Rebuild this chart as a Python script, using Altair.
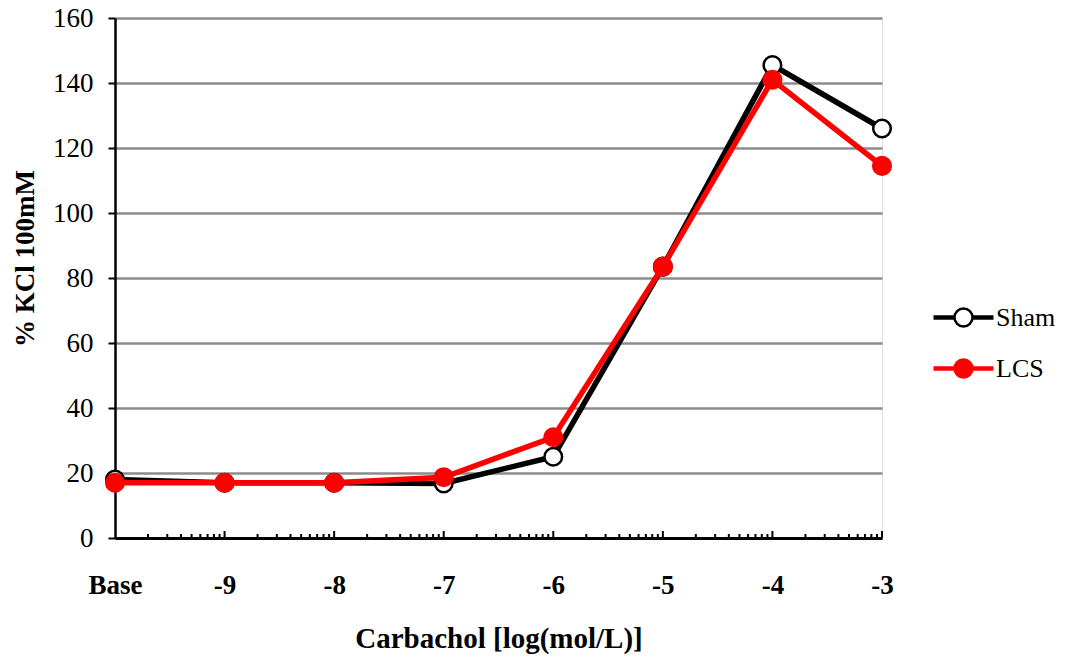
import altair as alt
import pandas as pd
import numpy as np

# Data
x_pos = [-10, -9, -8, -7, -6, -5, -4, -3]
x_labels = ["Base", "-9", "-8", "-7", "-6", "-5", "-4", "-3"]
sham = [18, 17, 17, 16.8, 25, 83.5, 145.5, 126]
lcs = [17, 17, 17, 18.7, 31, 83.5, 141, 114.5]
series_names = ["Sham", "LCS"]

rows = []
for name, vals in zip(series_names, [sham, lcs]):
    for xp, v in zip(x_pos, vals):
        rows.append({"series": name, "x": xp, "y": v})
df = pd.DataFrame(rows)

# axis decoration: inward major & minor (log) ticks
major_ticks = pd.DataFrame({"x": x_pos[1:]})
minor_ticks = pd.DataFrame({"x": [d + np.log10(k) for d in x_pos[:-1] for k in range(2, 10)]})

W, H = 767, 520
FONT = "Liberation Serif"

label_map = "{" + ", ".join(f"'{p}': '{l}'" for p, l in zip(x_pos, x_labels)) + "}"
label_expr = f"{label_map}['' + datum.value]"

xscale = alt.Scale(domain=[-10, -3], nice=False, zero=False)
yscale = alt.Scale(domain=[0, 160], nice=False)

xaxis = alt.Axis(values=x_pos, labelExpr=label_expr, ticks=False, tickSize=0,
                 labelFlush=False, labelOverlap=False,
                 labelPadding=34, labelFontWeight="bold", labelFontSize=27,
                 labelFont=FONT, labelColor="black", grid=False,
                 domainColor="black", domainWidth=3,
                 title="Carbachol [log(mol/L)]", titleFont=FONT, titleFontSize=29,
                 titleFontWeight="bold", titleColor="black", titlePadding=26)
yaxis = alt.Axis(values=list(range(0, 161, 20)), tickSize=7, tickWidth=2, tickColor="black",
                 labelPadding=15, labelFontSize=27, labelFont=FONT, labelColor="black",
                 labelFlush=False, labelOverlap=False,
                 domainColor="black", domainWidth=2.5,
                 grid=True, gridColor="#8c8c8c", gridWidth=2.5,
                 title="% KCl 100mM", titleFont=FONT, titleFontSize=27, titleY=240,
                 titleFontWeight="bold", titleColor="black", titlePadding=13)

legend_path = ("M-2,-0.07L-0.6,-0.07M-2,0L-0.6,0M-2,0.07L-0.6,0.07"
               "M0.6,-0.07L2,-0.07M0.6,0L2,0M0.6,0.07L2,0.07"
               "M0.6,0A0.6,0.6,0,1,1,-0.6,0A0.6,0.6,0,1,1,0.6,0Z")
legend = alt.Legend(title=None, orient="none", legendX=832, legendY=283,
                    symbolType=legend_path, symbolSize=900, symbolStrokeWidth=2.5,
                    labelFont=FONT, labelFontSize=26, labelColor="black",
                    labelOffset=16, rowPadding=20, padding=0)

stroke_scale = alt.Scale(domain=series_names, range=["black", "#ff0000"])
fill_scale = alt.Scale(domain=series_names, range=["white", "#ff0000"])

base = alt.Chart(df).encode(
    x=alt.X("x:Q", scale=xscale, axis=xaxis),
    y=alt.Y("y:Q", scale=yscale, axis=yaxis),
)

layers = []
for name in series_names:
    sub = base.transform_filter(alt.datum.series == name)
    layers.append(sub.mark_line(strokeWidth=5.5).encode(
        stroke=alt.Stroke("series:N", scale=stroke_scale, legend=legend)))
    layers.append(sub.mark_point(shape="circle", size=310, strokeWidth=2.5, opacity=1).encode(
        stroke=alt.Stroke("series:N", scale=stroke_scale, legend=legend),
        fill=alt.Fill("series:N", scale=fill_scale, legend=legend)))

major = alt.Chart(major_ticks).mark_rule(color="black", strokeWidth=2).encode(
    x=alt.X("x:Q", scale=xscale), y=alt.value(H), y2=alt.value(H - 7))
minor = alt.Chart(minor_ticks).mark_rule(color="black", strokeWidth=2).encode(
    x=alt.X("x:Q", scale=xscale), y=alt.value(H), y2=alt.value(H - 4))

chart = alt.layer(major, minor, *layers).properties(
    width=W, height=H,
    autosize=alt.AutoSizeParams(type="none"),
    padding={"left": 107, "top": 10, "right": 175, "bottom": 116},
).configure_view(stroke=None).configure(background="white")

chart.save("out.html", embed_options={"renderer": "svg", "actions": False})
